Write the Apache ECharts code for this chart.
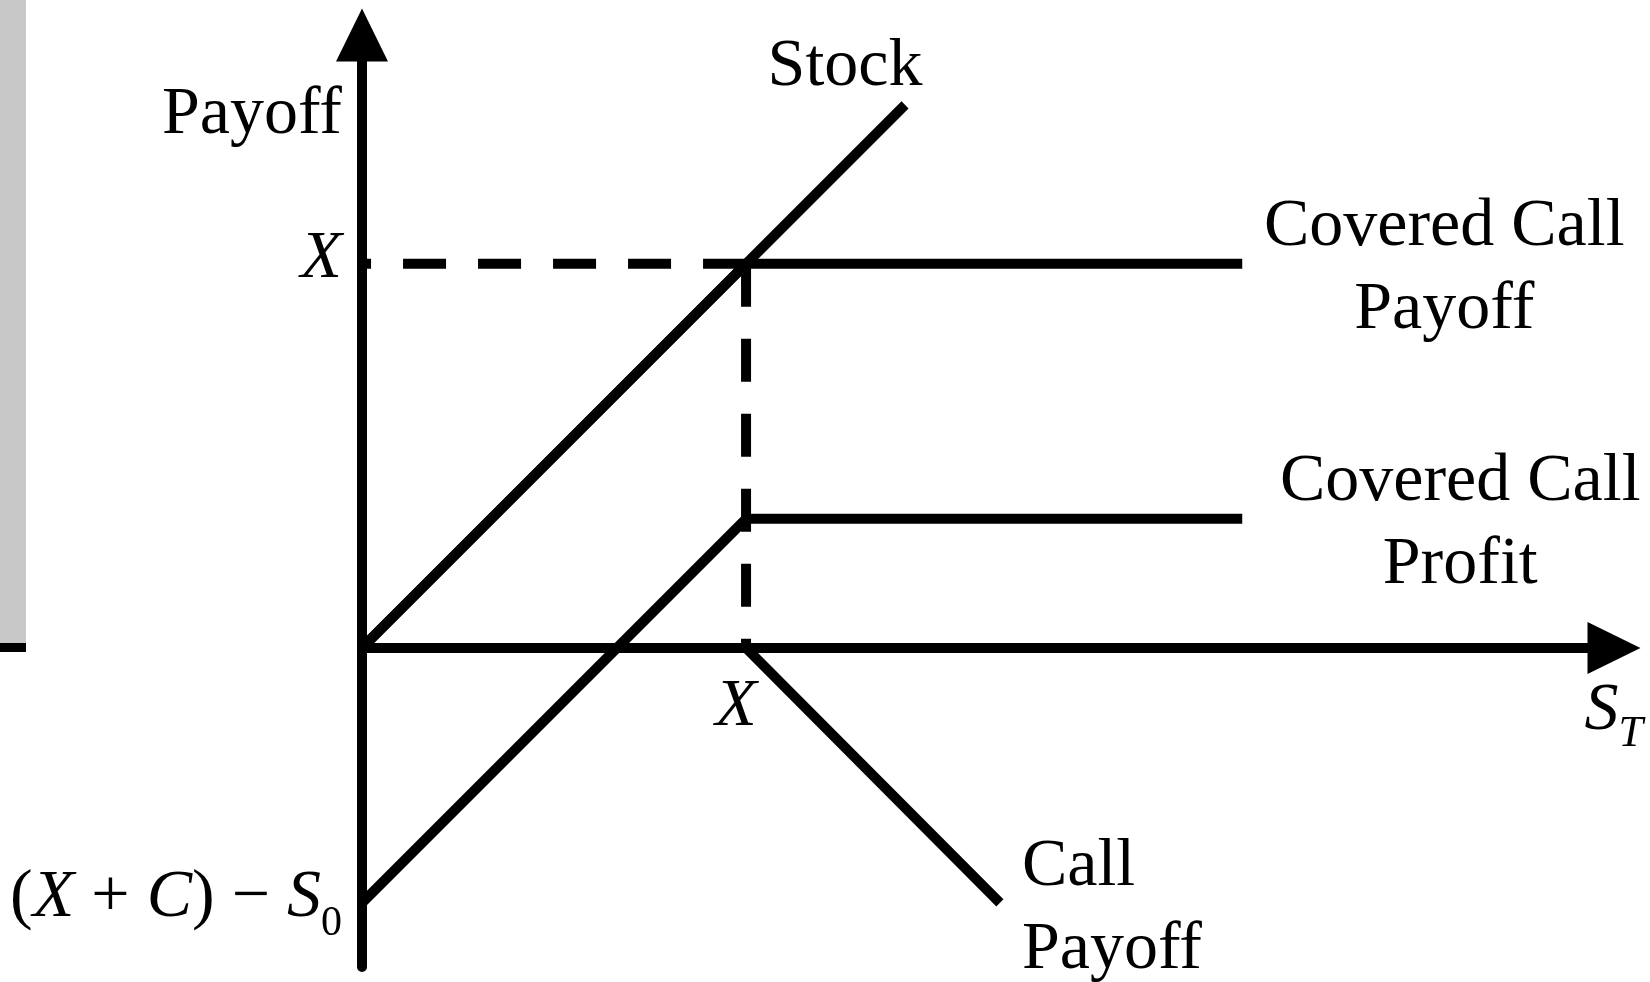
<!DOCTYPE html>
<html>
<head>
<meta charset="utf-8">
<title>Covered Call</title>
<script src="https://cdn.jsdelivr.net/npm/echarts@6.0.0/dist/echarts.min.js"></script>
<style>
  html, body { margin: 0; padding: 0; background: #fff; }
  #chart { width: 1650px; height: 982px; }
  /* slide edge left over from the original crop */
  .slide-edge {
    position: absolute; left: 0; top: 0;
    width: 26px; height: 643px;
    background: #c8c8c8; border-bottom: 9px solid #000;
  }
</style>
</head>
<body>
<div id="chart"></div>
<div class="slide-edge"></div>
<script>
// payoff diagram, strike X = 100
const strike = 100
const stock = [[0, 0], [141.4, 141.4]]
const coveredCallPayoff = [[0, 0], [100, 100], [229.2, 100]]
const coveredCallProfit = [[0, -66.4], [100, 33.6], [229.2, 33.6]]
const callPayoff = [[0, 0], [100, 0], [166.1, -66.4]]
const strikeGuideH = [[100, 100], [0, 100]]
const strikeGuideV = [[100, 100], [100, 0]]
const xRange = [0, 326]
const yRange = [-83.1, 159.6]
const curveNames = ['Stock', 'Covered Call\nPayoff', 'Covered Call\nProfit', 'Call\nPayoff']
const yTickValues = [strike, coveredCallProfit[0][1]]
const xTick = [strike, 0]

const serif = "'Liberation Serif', 'Times New Roman', serif"
const rich = {
  r: { fontFamily: serif, fontSize: 68, color: '#000' },
  i: { fontFamily: serif, fontSize: 68, fontStyle: 'italic', color: '#000' },
  sub: { fontFamily: serif, fontSize: 42, color: '#000', padding: [53, 0, 0, 0] },
  subI: { fontFamily: serif, fontSize: 44, fontStyle: 'italic', color: '#000', padding: [48, 0, 0, 0] }
}

function lineSeries(name, data, dashed) {
  return {
    name: name,
    type: 'line',
    data: data,
    showSymbol: false,
    symbol: 'none',
    clip: false,
    silent: true,
    lineStyle: {
      color: '#000',
      width: 10,
      cap: 'butt',
      join: 'miter',
      type: dashed ? [43, 32] : 'solid'
    }
  }
}

// text placement next to each curve's end, plus the X tick under the axis
const curveLabelStyle = [
  { align: 'center', offset: [-60, -38] },
  { align: 'center', offset: [202, 5] },
  { align: 'center', offset: [218, 5] },
  { align: 'left', offset: [22, 6] }
]
const curveEnds = [stock, coveredCallPayoff, coveredCallProfit, callPayoff].map(s => s[s.length - 1])

const labelData = curveEnds.map((p, i) => ({
  value: p,
  label: {
    formatter: curveNames[i],
    align: curveLabelStyle[i].align,
    offset: curveLabelStyle[i].offset
  }
}))
labelData.push({
  value: xTick,
  label: {
    formatter: '{i|X}',
    align: 'center',
    offset: [-10, 59],
    rich: rich
  }
})

const chart = echarts.init(document.getElementById('chart'))
const option = {
  animation: false,
  grid: { left: 362, right: 36, top: 35, bottom: 15, outerBoundsMode: 'none' },
  xAxis: {
    type: 'value',
    min: xRange[0],
    max: xRange[1],
    splitLine: { show: false },
    axisTick: { show: false },
    axisLabel: { show: false },
    axisLine: {
      onZero: true,
      symbol: ['none', 'triangle'],
      symbolSize: [52, 53],
      lineStyle: { color: '#000', width: 10 }
    },
    name: '{i|S}{subI|T}',
    nameLocation: 'end',
    nameGap: 29,
    nameTextStyle: {
      align: 'right',
      verticalAlign: 'middle',
      padding: [126, 0, 0, 0],
      rich: rich
    }
  },
  yAxis: {
    type: 'value',
    min: yRange[0],
    max: yRange[1],
    splitLine: { show: false },
    axisTick: { show: false },
    axisLine: {
      onZero: true,
      symbol: ['none', 'triangle'],
      symbolSize: [52, 53],
      lineStyle: { color: '#000', width: 10 }
    },
    axisLabel: {
      customValues: yTickValues,
      margin: 20,
      padding: [0, 0, 10, 0],
      formatter: function(v) {
        if (v === strike) {
          return '{i|X}'
        }
        return '{r|(}{i|X}{r| + }{i|C}{r|) − }{i|S}{sub|0}'
      },
      rich: rich
    },
    name: 'Payoff',
    nameLocation: 'end',
    nameGap: -80,
    nameTextStyle: {
      fontFamily: serif,
      fontSize: 68,
      color: '#000',
      align: 'right',
      verticalAlign: 'middle',
      padding: [0, 20, 0, 0]
    }
  },
  series: [
    lineSeries('strikeH', strikeGuideH, true),
    lineSeries('strikeV', strikeGuideV, true),
    lineSeries('Stock', stock),
    lineSeries('Covered Call Payoff', coveredCallPayoff),
    lineSeries('Covered Call Profit', coveredCallProfit),
    lineSeries('Call Payoff', callPayoff),
    {
      name: 'labels',
      type: 'scatter',
      silent: true,
      symbolSize: 0,
      clip: false,
      itemStyle: { color: '#000', opacity: 1 },
      label: {
        show: true,
        position: [0, 0],
        verticalAlign: 'middle',
        fontFamily: serif,
        fontSize: 68,
        lineHeight: 83,
        color: '#000',
        opacity: 1,
        textBorderWidth: 0
      },
      data: labelData
    }
  ]
}
chart.setOption(option)
</script>
</body>
</html>
